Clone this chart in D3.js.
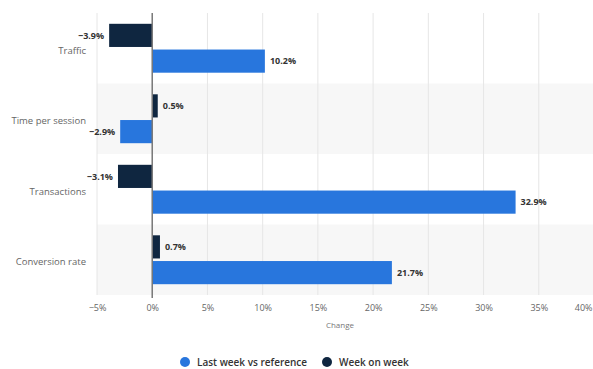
<!DOCTYPE html>
<html>
<head>
<meta charset="utf-8">
<script src="https://cdn.jsdelivr.net/npm/d3@7"></script>
<style>
  html, body { margin: 0; padding: 0; background: #fff; }
  svg { display: block; font-family: "Open Sans", "Noto Sans", sans-serif; }
</style>
</head>
<body>
<svg id="chart" width="593" height="369"></svg>
<script>
// Metric categories (top to bottom)
const categories = ["Traffic", "Time per session", "Transactions", "Conversion rate"];
// Series values in percent
const seriesNames = ["Week on week", "Last week vs reference"];
const weekOnWeek = [-3.9, 0.5, -3.1, 0.7];
const lastWeekVsReference = [10.2, -2.9, 32.9, 21.7];
const seriesColors = ["#0f2640", "#2876dd"];
// Axis ticks
const xTicks = [-5, 0, 5, 10, 15, 20, 25, 30, 35, 40];
const xTitle = "Change";
const legendOrder = [1, 0];

const svg = d3.select("#chart");
const W = 593, H = 369;
const plot = { left: 97, right: 594, top: 13, bottom: 295 };

const x = d3.scaleLinear().domain([-5, 40]).range([plot.left, plot.right]);
const y = d3.scaleBand().domain(categories).range([plot.top, plot.bottom]).padding(0);

// Alternating row backgrounds
svg.append("g").selectAll("rect")
  .data(categories)
  .join("rect")
  .attr("x", plot.left)
  .attr("y", d => y(d))
  .attr("width", plot.right - plot.left)
  .attr("height", y.bandwidth())
  .attr("fill", (d, i) => i % 2 ? "#f7f7f7" : "#ffffff");

// Vertical gridlines
svg.append("g").selectAll("line")
  .data(xTicks.filter(t => t !== 0))
  .join("line")
  .attr("x1", d => x(d)).attr("x2", d => x(d))
  .attr("y1", plot.top).attr("y2", plot.bottom)
  .attr("stroke", "#e6e6e6").attr("stroke-width", 1);

// Bars: one sub-band per series inside each category row
const inner = d3.scaleBand().domain([0, 1]).range([0, y.bandwidth()]).paddingInner(0.1).paddingOuter(0.42);
const series = [weekOnWeek, lastWeekVsReference];

const rows = categories.map((c, i) => series.map((s, k) => ({ c, k, v: s[i] }))).flat();

svg.append("g").selectAll("rect")
  .data(rows)
  .join("rect")
  .attr("x", d => x(Math.min(0, d.v)))
  .attr("y", d => y(d.c) + inner(d.k))
  .attr("width", d => Math.abs(x(d.v) - x(0)))
  .attr("height", inner.bandwidth())
  .attr("fill", d => seriesColors[d.k]);

// Value labels
svg.append("g").selectAll("text")
  .data(rows)
  .join("text")
  .attr("x", d => d.v < 0 ? x(d.v) - 5 : x(d.v) + 5)
  .attr("y", d => y(d.c) + inner(d.k) + inner.bandwidth() / 2)
  .attr("dy", "0.35em")
  .attr("text-anchor", d => d.v < 0 ? "end" : "start")
  .attr("font-size", 9)
  .attr("font-weight", "bold")
  .attr("fill", "#333")
  .text(d => (d.v < 0 ? "\u2212" : "") + Math.abs(d.v).toFixed(1) + "%");

// Zero line
svg.append("line")
  .attr("x1", x(0)).attr("x2", x(0))
  .attr("y1", plot.top).attr("y2", plot.bottom + 3)
  .attr("stroke", "#777").attr("stroke-width", 1.5);

// Category labels
svg.append("g").selectAll("text")
  .data(categories)
  .join("text")
  .attr("x", 86)
  .attr("y", d => y(d) + y.bandwidth() / 2 + 2)
  .attr("dy", "0.35em")
  .attr("text-anchor", "end")
  .attr("font-size", 9.5)
  .attr("fill", "#666")
  .text(d => d);

// X axis tick labels
const xAxis = d3.axisBottom(x)
  .tickValues(xTicks)
  .tickSize(0)
  .tickPadding(0)
  .tickFormat(d => (d < 0 ? "\u2212" + Math.abs(d) : d) + "%");
const gx = svg.append("g").attr("transform", `translate(0,${plot.bottom + 10})`).call(xAxis);
gx.select(".domain").remove();
gx.selectAll("text")
  .attr("font-size", 9)
  .attr("font-family", "\"Open Sans\", \"Noto Sans\", sans-serif")
  .attr("fill", "#666");
// Keep the last tick label inside the chart's right edge
const lastTick = xTicks[xTicks.length - 1];
gx.selectAll(".tick")
  .filter(d => d === lastTick)
  .select("text")
  .attr("text-anchor", "end")
  .attr("x", (W - 1) - x(lastTick));

svg.append("text")
  .attr("x", (plot.left + 575) / 2 + 4)
  .attr("y", 328)
  .attr("text-anchor", "middle")
  .attr("font-size", 8)
  .attr("fill", "#777")
  .text(xTitle);

// Legend
const legendX = [185, 327];
const lg = svg.append("g").selectAll("g")
  .data(legendOrder)
  .join("g")
  .attr("transform", (k, i) => `translate(${legendX[i]},362)`);
lg.append("circle").attr("r", 5).attr("fill", k => seriesColors[k]);
lg.append("text")
  .attr("x", 12)
  .attr("dy", "0.35em")
  .attr("font-size", 10)
  .attr("font-weight", 600)
  .attr("fill", "#333")
  .text(k => seriesNames[k]);
</script>
</body>
</html>
